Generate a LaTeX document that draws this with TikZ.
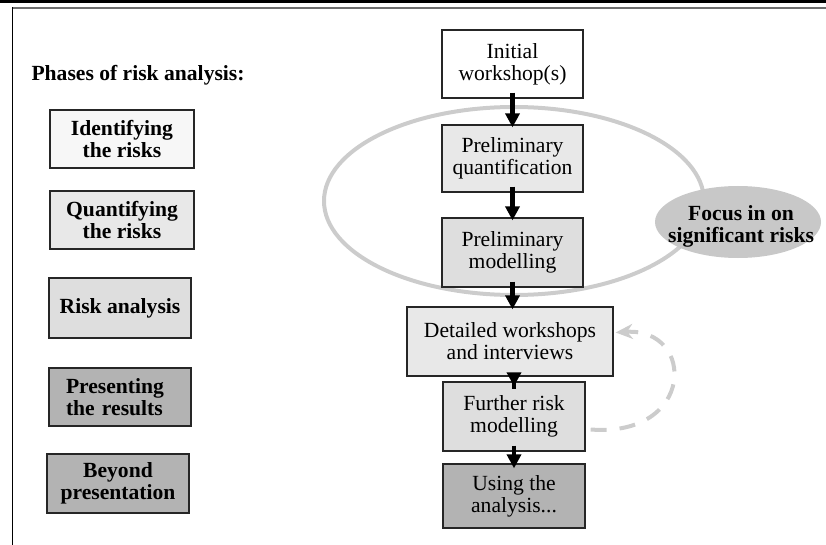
\documentclass[tikz,border=0pt]{standalone}
\usepackage{fontspec}
\setmainfont{Liberation Serif}
\usepackage{xcolor}
\usetikzlibrary{shapes.geometric, arrows.meta, positioning, calc}
\definecolor{shadeA}{HTML}{F7F7F7}
\definecolor{shadeB}{HTML}{E8E8E8}
\definecolor{shadeC}{HTML}{DEDEDE}
\definecolor{shadeD}{HTML}{B3B3B3}
\definecolor{ringgray}{HTML}{CCCCCC}
\definecolor{focusgray}{HTML}{C8C8C8}
\definecolor{framegray}{HTML}{6E6E6E}

\begin{document}
\begin{tikzpicture}[x=1pt, y=-1pt,
    phase/.style={draw=black!85, line width=1.3pt, font={\fontsize{21.6}{22.5}\selectfont\bfseries},
        align=center, inner sep=0pt, minimum width=142, minimum height=58},
    stage/.style={draw=black!85, line width=1.3pt, font={\fontsize{21.6}{22}\selectfont},
        align=center, inner sep=0pt, minimum width=141, minimum height=68},
    flow/.style={-{Triangle[length=14pt,width=14pt]}, line width=4.2pt, shorten <=-6pt, shorten >=-3pt},
    loopback/.style={ringgray, line width=4pt, dash pattern=on 16pt off 13pt, -{Stealth[length=17pt,width=15pt]}}]
    \useasboundingbox (0,0) rectangle (826,545);

    % Frame
    \fill[black] (0,0) rectangle (826,3.5);
    \draw[framegray, line width=1.6pt] (12,8.3) -- (826,8.3);
    \draw[black, line width=1.3pt] (12.3,7.5) -- (12.3,545);

    % Phases (left column)
    \node[anchor=base west, font={\fontsize{21.6}{22.5}\selectfont\bfseries}] (title) at (28,81) {Phases of risk analysis:};
    \node[phase, fill=shadeA, minimum width=144] (identify) at (122,139) {Identifying\\the risks};
    \node[phase, fill=shadeB, minimum width=144] (quantify) at (122,220) {Quantifying\\the risks};
    \node[phase, fill=shadeC, minimum height=60] (riskan) at (120,308) {Risk analysis};
    \node[phase, fill=shadeD, align=left, text width=108] (present) at (120,397) {Presenting\\the results};
    \node[phase, fill=shadeD, minimum height=59] (beyond) at (118,483.5) {Beyond\\presentation};

    % Focus ring
    \draw[ringgray, line width=4pt] (514,201) ellipse [x radius=190, y radius=94];
    \fill[focusgray] (738,222) ellipse [x radius=83, y radius=36];
    \node[font={\fontsize{21.6}{22}\selectfont\bfseries}, align=center] (focus) at (741,226) {Focus in on\\significant risks};

    % Process (right column)
    \node[stage, fill=white] (initial) at (512.5,64) {Initial\\workshop(s)};
    \node[stage, fill=shadeB, minimum height=67] (prelimq) at (512.5,158.5) {Preliminary\\quantification};
    \node[stage, fill=shadeC, minimum height=69] (prelimm) at (512.5,252.5) {Preliminary\\modelling};
    \node[stage, fill=shadeB, minimum width=206, minimum height=69] (detailed) at (510,341.5) {Detailed workshops\\and interviews};
    \node[stage, fill=shadeC, minimum width=142, minimum height=69] (further) at (514,416.5) {Further risk\\modelling};
    \node[stage, fill=shadeD, minimum width=142, minimum height=64] (using) at (514,496) {Using the\\analysis...};

    % Arrows
    \draw[flow] (initial) -- (prelimq);
    \draw[flow] (prelimq) -- (prelimm);
    \draw[flow] (prelimm) -- (prelimm |- detailed.north);
    \draw[flow, shorten <=-12pt, shorten >=-5pt] (detailed.south -| further) -- (further);
    \draw[flow, shorten >=-5pt] (further) -- (using);
    \draw[loopback] ($(further.east)+(5,13)$) .. controls +(105,8) and +(80,-5) .. ($(detailed.east)+(2,-9)$);

\end{tikzpicture}
\end{document}
